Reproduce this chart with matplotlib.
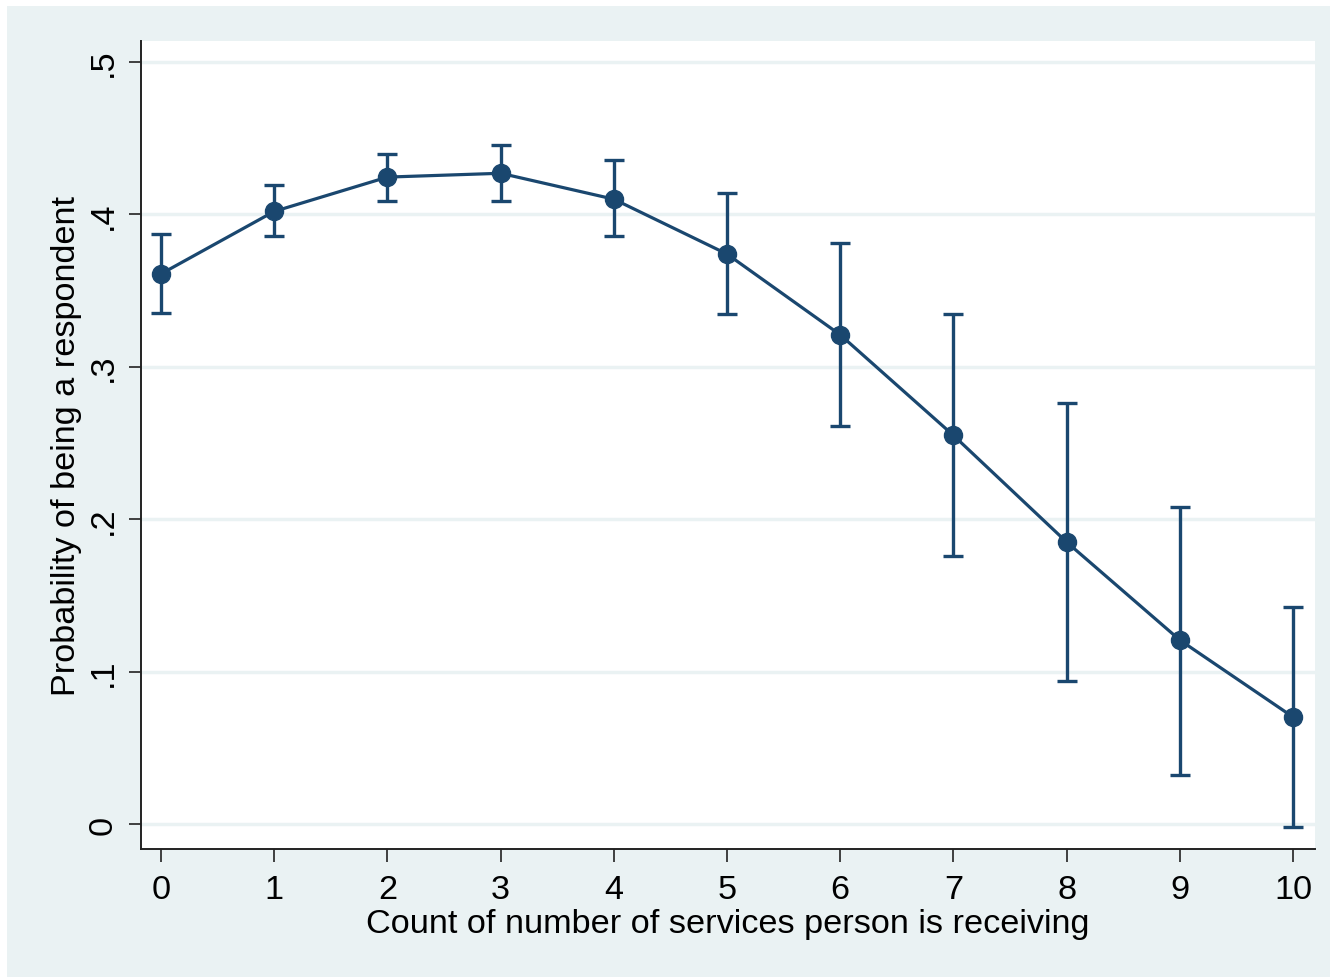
import matplotlib.pyplot as plt
from matplotlib.patches import Rectangle

plt.rcParams['font.family'] = ['Liberation Sans', 'DejaVu Sans']

# predicted probabilities with 95% intervals
services = [0, 1, 2, 3, 4, 5, 6, 7, 8, 9, 10]
prob = [0.361, 0.402, 0.4245, 0.427, 0.410, 0.374, 0.321, 0.255, 0.185, 0.1207, 0.0702]
ci_low = [0.335, 0.386, 0.4088, 0.4088, 0.3858, 0.3346, 0.261, 0.1759, 0.0938, 0.0322, -0.002]
ci_high = [0.387, 0.419, 0.4396, 0.4455, 0.4357, 0.414, 0.381, 0.3346, 0.276, 0.208, 0.1424]
yticks = [0, 0.1, 0.2, 0.3, 0.4, 0.5]
ytick_labels = ['0', '.1', '.2', '.3', '.4', '.5']

navy = '#1A476F'
bg = '#EAF2F3'

fig = plt.figure(figsize=(13.3, 9.78), dpi=100)
fig.patch.set_facecolor('white')
fig.patches.append(Rectangle((7 / 1330, 0), 1, 1 - 7 / 978, transform=fig.transFigure,
                             facecolor=bg, edgecolor='none', zorder=-10))

ax = fig.add_axes([141 / 1330, 1 - 850 / 978, (1315 - 141) / 1330, (850 - 42) / 978])
ax.set_facecolor('white')

yerr = [[p - lo for p, lo in zip(prob, ci_low)], [hi - p for p, hi in zip(prob, ci_high)]]
ax.errorbar(services, prob, yerr=yerr, fmt='none', ecolor=navy, elinewidth=2.4,
            capsize=7, capthick=2.4, zorder=3)
ax.plot(services, prob, color=navy, lw=2.3, marker='o', ms=13, zorder=4)

ax.set_xlim(-0.177, 10.194)
ax.set_ylim(-0.0164, 0.5138)
ax.set_xticks(services)
ax.set_yticks(yticks)
ax.set_yticklabels(ytick_labels, rotation=90, va='center')
ax.grid(axis='y', color=bg, lw=2.5)
ax.set_axisbelow(True)

for s in ['top', 'right']:
    ax.spines[s].set_visible(False)
for s in ['left', 'bottom']:
    ax.spines[s].set_linewidth(1.4)
    ax.spines[s].set_color('#222222')

ax.tick_params(labelsize=24.7, length=9, width=1.2, color='#222222')
ax.tick_params(axis='x', pad=9)
ax.tick_params(axis='y', pad=7)
ax.set_xlabel('Count of number of services person is receiving', fontsize=24.7, labelpad=2)
ax.set_ylabel('Probability of being a respondent', fontsize=24.7, labelpad=4)

fig.savefig('out.png', dpi=100)
